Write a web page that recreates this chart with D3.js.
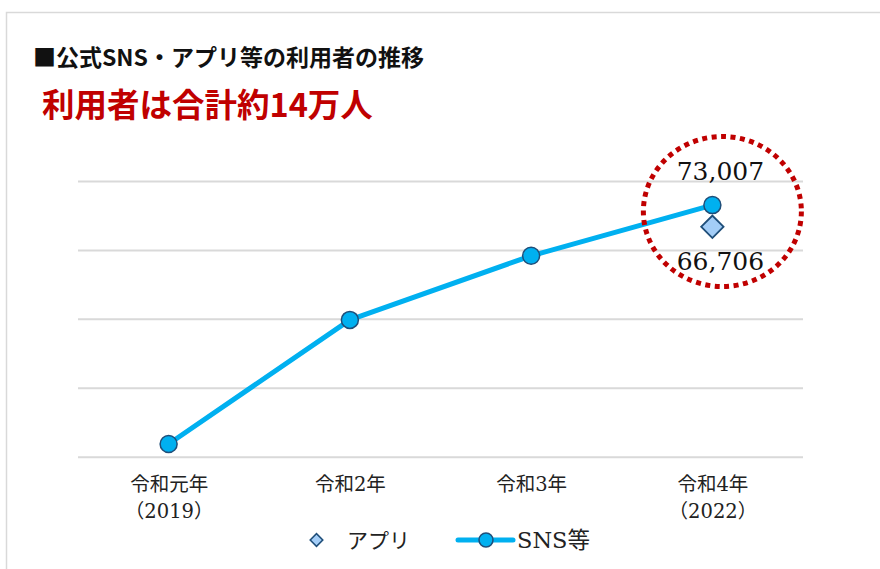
<!DOCTYPE html>
<html>
<head>
<meta charset="utf-8">
<script src="https://cdn.jsdelivr.net/npm/d3@7"></script>
<style>
  body { margin: 0; background: #fff; }
  svg { display: block; }
</style>
</head>
<body>
<svg width="880" height="569"></svg>
<script>
var width = 880;
var height = 569;

// data
var categories = ['令和元年', '令和2年', '令和3年', '令和4年'];
var subLabels = ['（2019）', '', '', '（2022）'];
var snsValues = [3700, 39700, 58300, 73007];
var appValues = [null, null, null, 66706];
var gridTicks = [0, 20000, 40000, 60000, 80000];

var serif = '"DejaVu Serif", "Noto Sans CJK JP", serif';
var sans = '"Noto Sans CJK JP", sans-serif';
var lineColor = '#00b0f0';
var markStroke = '#1f4e79';
var appFill = '#a3cdf7';
var red = '#c00000';

var svg = d3.select('svg');

// outer frame (left + top only visible)
svg.append('path')
  .attr('d', 'M6.5,' + height + 'V12.5H' + width)
  .attr('fill', 'none')
  .attr('stroke', '#d9d9d9')
  .attr('stroke-width', 1.5);

svg.append('text')
  .attr('x', 33)
  .attr('y', 66)
  .attr('font-family', sans)
  .attr('font-weight', 'bold')
  .attr('font-size', '23px')
  .attr('fill', '#111')
  .text('■公式SNS・アプリ等の利用者の推移');

svg.append('text')
  .attr('x', 42)
  .attr('y', 117)
  .attr('font-family', sans)
  .attr('font-weight', 'bold')
  .attr('font-size', '32.5px')
  .attr('fill', red)
  .text('利用者は合計約14万人');

var xScale = d3.scalePoint()
  .domain(categories)
  .range([78, 803])
  .padding(0.5);

var yScale = d3.scaleLinear()
  .domain([0, 80000])
  .range([456.7, 181]);

// gridlines
var grid = d3.axisLeft(yScale).tickValues(gridTicks).tickSize(-(803 - 78)).tickFormat('');
var gGrid = svg.append('g').attr('transform', 'translate(78,0)').call(grid);
gGrid.select('.domain').remove();
gGrid.selectAll('.tick line').attr('stroke', '#d9d9d9').attr('stroke-width', 2);

// category labels
var xAxis = d3.axisBottom(xScale).tickSize(0).tickFormat('');
var gX = svg.append('g').attr('transform', 'translate(0,456.7)').call(xAxis);
gX.select('.domain').remove();
gX.selectAll('.tick').each(function(d, i) {
  var t = d3.select(this);
  t.append('text')
    .attr('y', 34)
    .attr('text-anchor', 'middle')
    .attr('font-family', serif)
    .attr('font-size', '19.5px')
    .attr('fill', '#222')
    .text(d);
  t.append('text')
    .attr('y', 61)
    .attr('text-anchor', 'middle')
    .attr('font-family', serif)
    .attr('font-size', '19.5px')
    .attr('fill', '#222')
    .text(subLabels[i]);
});

// SNS line
var line = d3.line()
  .x(function(d, i) { return xScale(categories[i]); })
  .y(function(d) { return yScale(d); });

svg.append('path')
  .datum(snsValues)
  .attr('d', line)
  .attr('fill', 'none')
  .attr('stroke', lineColor)
  .attr('stroke-width', 5)
  .attr('stroke-linejoin', 'round');

// app diamonds
var diamond = d3.symbol().type(d3.symbolSquare).size(250);
svg.append('g').selectAll('path')
  .data(appValues.map(function(v, i) { return { v: v, c: categories[i] }; })
    .filter(function(d) { return d.v != null; }))
  .enter().append('path')
  .attr('d', diamond)
  .attr('transform', function(d) {
    return 'translate(' + xScale(d.c) + ',' + yScale(d.v) + ') rotate(45)';
  })
  .attr('fill', appFill)
  .attr('stroke', markStroke)
  .attr('stroke-width', 1.8);

svg.append('g').selectAll('circle')
  .data(snsValues)
  .enter().append('circle')
  .attr('cx', function(d, i) { return xScale(categories[i]); })
  .attr('cy', function(d) { return yScale(d); })
  .attr('r', 8.5)
  .attr('fill', lineColor)
  .attr('stroke', markStroke)
  .attr('stroke-width', 1.5);

// value labels for 2022
var last = categories.length - 1;
var cx = xScale(categories[last]) + 8;
svg.append('text')
  .attr('x', cx)
  .attr('y', yScale(snsValues[last]) - 25)
  .attr('text-anchor', 'middle')
  .attr('font-family', serif)
  .attr('font-size', '25px')
  .attr('fill', '#111')
  .text(d3.format(',')(snsValues[last]));
svg.append('text')
  .attr('x', cx)
  .attr('y', yScale(appValues[last]) + 43)
  .attr('text-anchor', 'middle')
  .attr('font-family', serif)
  .attr('font-size', '25px')
  .attr('fill', '#111')
  .text(d3.format(',')(appValues[last]));

// red dotted highlight
svg.append('ellipse')
  .attr('cx', xScale(categories[last]) + 10)
  .attr('cy', 211.5)
  .attr('rx', 79)
  .attr('ry', 75)
  .attr('fill', 'none')
  .attr('stroke', red)
  .attr('stroke-width', 5)
  .attr('stroke-dasharray', '5 4.5');

// legend
var legend = svg.append('g');
legend.append('path')
  .attr('d', d3.symbol().type(d3.symbolSquare).size(80))
  .attr('transform', 'translate(316.5,540) rotate(45)')
  .attr('fill', appFill)
  .attr('stroke', markStroke)
  .attr('stroke-width', 1.5);
legend.append('text')
  .attr('x', 347)
  .attr('y', 548)
  .attr('font-family', serif)
  .attr('font-size', '21px')
  .attr('fill', '#222')
  .text('アプリ');
legend.append('line')
  .attr('x1', 458).attr('x2', 513)
  .attr('y1', 540).attr('y2', 540)
  .attr('stroke', lineColor)
  .attr('stroke-width', 5)
  .attr('stroke-linecap', 'round');
legend.append('circle')
  .attr('cx', 486).attr('cy', 540).attr('r', 7)
  .attr('fill', lineColor)
  .attr('stroke', markStroke)
  .attr('stroke-width', 1.5);
legend.append('text')
  .attr('x', 517)
  .attr('y', 548)
  .attr('font-family', serif)
  .attr('font-size', '22.5px')
  .attr('fill', '#222')
  .text('SNS等');
</script>
</body>
</html>
